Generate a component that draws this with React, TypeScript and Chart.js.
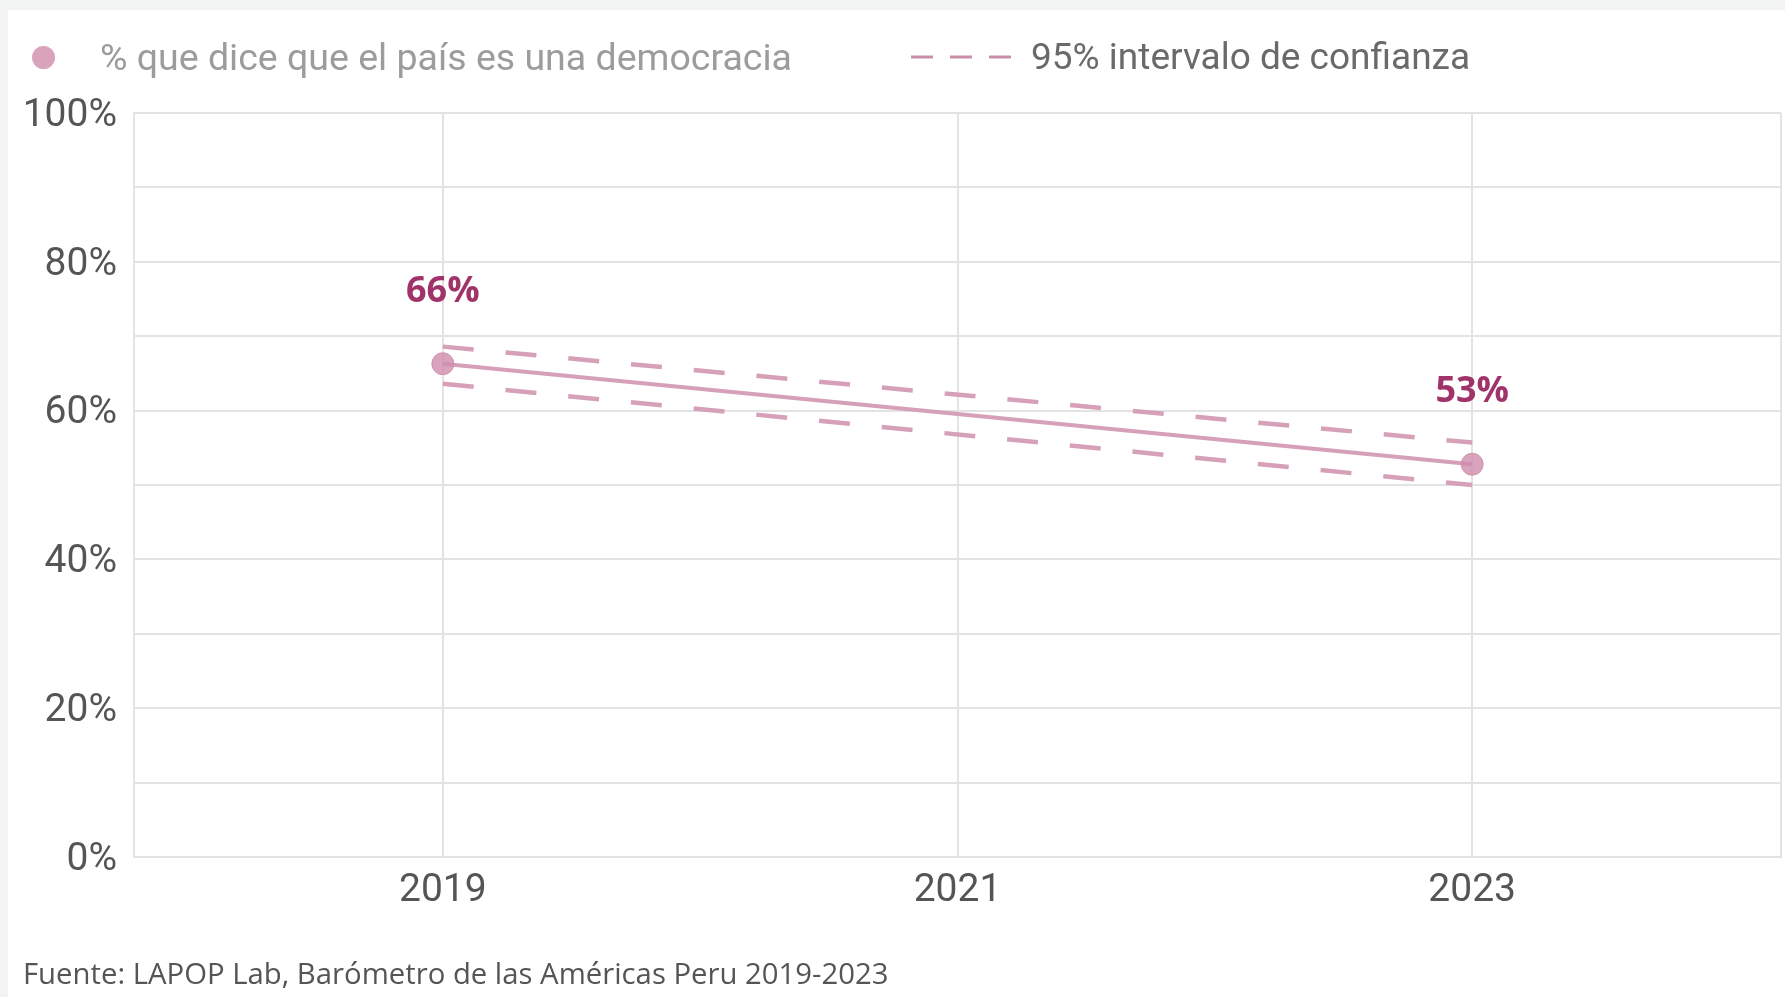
import React, { useEffect, useRef } from "react";
import { Chart, registerables } from "chart.js";
Chart.register(...registerables);

const years = [2019, 2023];
const pctDemocracy = [66.3, 52.8];
const ciUpper = [68.6, 55.7];
const ciLower = [63.6, 50.0];
const valueLabels = ["66%", "53%"];
const xTickYears = [2019, 2021, 2023];
const xMin = 2017.8;
const xMax = 2024.2;
const legendMain = "% que dice que el país es una democracia";
const legendCI = "95% intervalo de confianza";
const sourceText = "Fuente: LAPOP Lab, Barómetro de las Américas Peru 2019-2023";

const W = 1785;
const H = 997;
const CW = 1793;
const GRID = "#e3e3e3";
const PINK = "#d6a0b9";
const LABEL = "#a0346a";

const valueLabelPlugin = {
  id: "valueLabels",
  afterDatasetsDraw(chart: any) {
    const meta = chart.getDatasetMeta(0);
    const ctx = chart.ctx;
    ctx.save();
    ctx.font = "bold 36px 'Open Sans'";
    ctx.fillStyle = LABEL;
    ctx.textAlign = "center";
    ctx.textBaseline = "middle";
    meta.data.forEach((pt: any, i: number) => {
      ctx.fillText(valueLabels[i], pt.x, pt.y - 72);
    });
    ctx.restore();
  },
};

export default function App() {
  const ref = useRef<HTMLCanvasElement | null>(null);
  useEffect(() => {
    document.body.style.margin = "0";
    const canvas = ref.current!;
    const chart = new Chart(canvas, {
      type: "line",
      data: {
        datasets: [
          {
            label: legendMain,
            data: years.map((x, i) => ({ x, y: pctDemocracy[i] })),
            borderColor: PINK,
            borderWidth: 4,
            pointRadius: 11,
            pointBackgroundColor: "rgba(206,140,172,0.8)",
            pointBorderColor: "rgba(206,140,172,0.9)",
            pointBorderWidth: 1,
            tension: 0,
          },
          {
            label: "upper",
            data: years.map((x, i) => ({ x, y: ciUpper[i] })),
            borderColor: PINK,
            borderWidth: 4.5,
            borderDash: [31, 32],
            pointRadius: 0,
          },
          {
            label: "lower",
            data: years.map((x, i) => ({ x, y: ciLower[i] })),
            borderColor: PINK,
            borderWidth: 4.5,
            borderDash: [31, 32],
            pointRadius: 0,
          },
        ],
      },
      options: {
        responsive: false,
        animation: false,
        layout: { padding: { top: 113, right: 0, left: 0, bottom: 0 } },
        plugins: { legend: { display: false }, tooltip: { enabled: false } },
        scales: {
          x: {
            type: "linear",
            min: xMin,
            max: xMax,
            afterBuildTicks: (scale: any) => {
              scale.ticks = [xMin, ...xTickYears, xMax].map((v) => ({ value: v }));
            },
            afterFit: (scale: any) => {
              scale.height = H - 857;
            },
            grid: { color: GRID, lineWidth: 2, drawTicks: false },
            border: { color: GRID, width: 2 },
            ticks: {
              padding: 11,
              autoSkip: false,
              maxRotation: 0,
              color: "#555555",
              font: { family: "Roboto", size: 39 },
              callback: (v: any) => (xTickYears.includes(Number(v)) ? String(v) : ""),
            },
          },
          y: {
            min: 0,
            max: 100,
            afterFit: (scale: any) => {
              scale.width = 134;
            },
            grid: { color: GRID, lineWidth: 2, drawTicks: false },
            border: { color: GRID, width: 2 },
            ticks: {
              stepSize: 10,
              padding: 17,
              labelOffset: 3,
              autoSkip: false,
              color: "#555555",
              font: { family: "Roboto", size: 39 },
              callback: (v: any) => (Number(v) % 20 === 0 ? v + "%" : ""),
            },
          },
        },
      },
      plugins: [valueLabelPlugin],
    } as any);
    return () => chart.destroy();
  }, []);

  return (
    <div style={{ position: "relative", width: W, height: H, background: "#f2f4f4", overflow: "hidden" }}>
      <div style={{ position: "absolute", left: 8, top: 10, right: 0, bottom: 0, background: "#ffffff" }} />
      <canvas ref={ref} width={CW} height={H} style={{ position: "absolute", left: 0, top: 0, width: CW, height: H }} />
      <div style={{ position: "absolute", left: 32, top: 46, width: 23, height: 23, borderRadius: "50%", background: "#d9a3bb" }} />
      <div style={{ position: "absolute", left: 100, top: 34, height: 46, lineHeight: "46px", fontFamily: "Roboto", fontSize: 37.5, color: "#9c9c9c", whiteSpace: "nowrap" }}>
        {legendMain}
      </div>
      <svg style={{ position: "absolute", left: 908, top: 50 }} width={106} height={14}>
        <line x1={3} y1={7} x2={103} y2={7} stroke="#c98fa9" strokeWidth={3} strokeDasharray="22 17" />
      </svg>
      <div style={{ position: "absolute", left: 1031, top: 34, height: 46, lineHeight: "46px", fontFamily: "Roboto", fontSize: 37, color: "#6a6a6a", whiteSpace: "nowrap" }}>
        {legendCI}
      </div>
      <div style={{ position: "absolute", left: 23, top: 955, height: 36, lineHeight: "36px", fontFamily: "'Open Sans'", fontSize: 29.3, color: "#555555", whiteSpace: "nowrap" }}>
        {sourceText}
      </div>
    </div>
  );
}
